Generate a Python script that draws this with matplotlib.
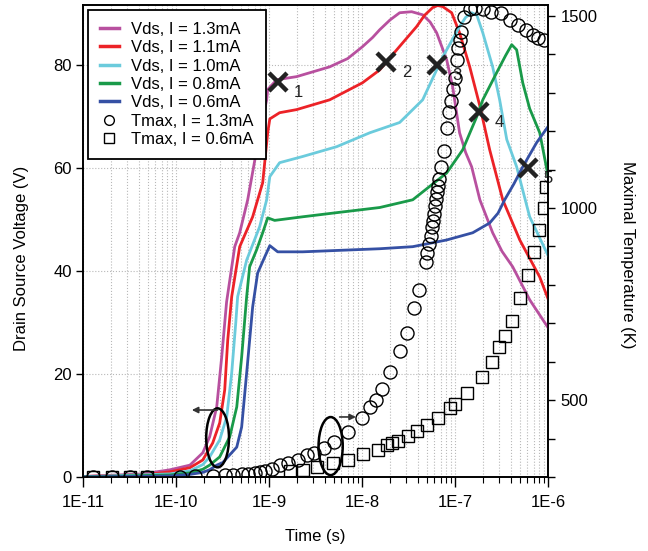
import numpy as np
import matplotlib
matplotlib.use("Agg")
import matplotlib.pyplot as plt
from matplotlib.lines import Line2D
from matplotlib.patches import Ellipse
from matplotlib.ticker import FixedLocator, FuncFormatter, LogLocator, NullFormatter, MultipleLocator

plt.rcParams['font.family'] = ['Liberation Sans', 'DejaVu Sans']
plt.rcParams['font.size'] = 12

# ---- drain-source voltage transients (time in s, voltage in V) ----
t_vds_13 = [1.0e-11, 4.4e-11, 8.6e-11, 1.41e-10, 1.94e-10, 2.30e-10, 2.74e-10, 3.10e-10, 3.50e-10,
            4.28e-10, 4.84e-10, 5.90e-10, 7.94e-10, 9.44e-10, 9.68e-10, 1.21e-9, 1.98e-9, 4.49e-9,
            7.0e-9, 1.01e-8, 1.30e-8, 1.55e-8, 2.0e-8, 2.54e-8, 3.42e-8, 4.49e-8, 5.4e-8, 6.35e-8,
            8.13e-8, 9.44e-8, 1.12e-7, 1.30e-7, 1.51e-7, 1.85e-7, 2.54e-7, 3.2e-7, 4.17e-7, 6.35e-7,
            1.0e-6]
v_vds_13 = [0.1, 0.6, 1.4, 2.3, 4.7, 7.8, 13.6, 23.3, 34.0,
            44.7, 47.4, 53.8, 66.8, 73.2, 75.2, 77.1, 77.7, 79.6,
            81.2, 83.5, 85.3, 86.8, 88.7, 90.1, 90.3, 89.7, 88.3, 86.2,
            81.0, 75.7, 66.8, 63.0, 60.2, 53.8, 47.4, 43.8, 40.8, 34.4,
            29.0]

t_vds_11 = [1.0e-11, 4.4e-11, 8.6e-11, 1.41e-10, 1.94e-10, 2.48e-10, 2.95e-10, 3.34e-10, 3.60e-10,
            3.97e-10, 4.84e-10, 6.67e-10, 8.55e-10, 9.68e-10, 1.02e-9, 1.30e-9, 1.98e-9, 4.49e-9,
            1.01e-8, 1.55e-8, 2.36e-8, 3.86e-8, 4.7e-8, 5.75e-8, 6.5e-8, 7.36e-8, 9.20e-8, 1.12e-7,
            1.44e-7, 1.85e-7, 2.36e-7, 3.26e-7, 4.97e-7, 8.15e-7, 1.0e-6]
v_vds_11 = [0.1, 0.4, 1.0, 1.8, 3.3, 6.6, 10.5, 16.9, 26.6,
            35.0, 44.7, 50.5, 57.1, 66.8, 69.5, 70.7, 71.3, 73.2,
            76.5, 79.0, 82.9, 87.4, 89.6, 91.1, 91.5, 91.3, 90.1, 86.2,
            79.6, 72.0, 63.5, 53.8, 46.0, 38.8, 34.6]

t_vds_10 = [1.0e-11, 8.6e-11, 1.41e-10, 1.94e-10, 2.30e-10, 2.95e-10, 3.51e-10, 3.97e-10, 4.39e-10,
            4.60e-10, 5.75e-10, 7.94e-10, 9.44e-10, 1.02e-9, 1.30e-9, 2.30e-9, 5.33e-9, 1.21e-8,
            2.54e-8, 4.49e-8, 7.36e-8, 1.12e-7, 1.30e-7, 1.51e-7, 1.72e-7, 1.99e-7, 2.54e-7, 3.02e-7,
            3.60e-7, 4.60e-7, 6.35e-7, 1.0e-6]
v_vds_10 = [0.05, 0.6, 1.2, 2.4, 3.9, 7.2, 11.7, 20.2, 29.9,
            35.0, 42.1, 48.6, 53.8, 58.3, 61.0, 62.2, 64.1, 66.8,
            68.8, 73.2, 81.5, 87.4, 89.2, 90.1, 89.6, 86.2, 79.6, 73.2,
            65.5, 60.2, 50.5, 43.0]

t_vds_08 = [1.0e-11, 8.6e-11, 1.41e-10, 1.94e-10, 2.30e-10, 2.95e-10, 3.78e-10, 4.50e-10, 5.08e-10,
            5.75e-10, 6.19e-10, 7.36e-10, 8.55e-10, 9.68e-10, 1.15e-9, 2.30e-9, 5.33e-9, 1.55e-8,
            3.51e-8, 8.13e-8, 1.21e-7, 1.71e-7, 1.99e-7, 2.81e-7, 3.5e-7, 4.07e-7, 4.60e-7, 5.35e-7,
            6.35e-7, 8.15e-7, 1.0e-6]
v_vds_08 = [0.0, 0.4, 0.8, 1.5, 2.3, 3.9, 7.8, 13.6, 23.3,
            35.0, 40.8, 44.1, 47.4, 50.3, 49.8, 50.5, 51.3, 52.3,
            53.8, 59.0, 63.5, 69.9, 73.2, 78.5, 81.8, 83.9, 82.9, 76.5,
            71.5, 66.8, 58.5]

t_vds_06 = [1.0e-11, 8.6e-11, 1.41e-10, 1.94e-10, 2.30e-10, 2.74e-10, 3.18e-10, 4.50e-10, 5.08e-10,
            5.75e-10, 6.67e-10, 7.55e-10, 8.99e-10, 1.02e-9, 1.24e-9, 2.30e-9, 1.55e-8, 3.51e-8,
            8.13e-8, 1.55e-7, 2.36e-7, 2.9e-7, 3.42e-7, 4.3e-7, 5.35e-7, 7.55e-7, 1.0e-6]
v_vds_06 = [0.0, 0.2, 0.5, 0.9, 1.4, 2.3, 2.8, 5.8, 9.7,
            20.2, 33.0, 39.6, 42.7, 44.9, 43.7, 43.7, 44.3, 44.7,
            46.0, 47.4, 49.3, 51.2, 53.8, 56.9, 60.2, 64.9, 68.0]

# ---- maximal temperature (time in s, temperature in K) ----
t_tmax_13 = [1.27e-11, 2.04e-11, 3.18e-11, 4.84e-11, 1.10e-10, 1.59e-10, 2.48e-10, 3.34e-10, 4.07e-10,
             5.08e-10, 5.90e-10, 7.01e-10, 7.94e-10, 8.99e-10, 1.07e-9, 1.30e-9, 1.59e-9, 2.03e-9,
             2.54e-9, 3.02e-9, 3.87e-9, 4.96e-9, 7.02e-9, 9.93e-9, 1.21e-8, 1.40e-8, 1.63e-8, 1.98e-8,
             2.54e-8, 3.02e-8, 3.59e-8, 4.06e-8, 4.83e-8, 4.95e-8, 5.20e-8, 5.47e-8, 5.61e-8, 5.74e-8,
             5.89e-8, 6.04e-8, 6.19e-8, 6.34e-8, 6.50e-8, 6.67e-8, 7.00e-8, 7.55e-8, 8.13e-8, 8.54e-8,
             8.97e-8, 9.44e-8, 9.90e-8, 1.04e-7, 1.07e-7, 1.12e-7, 1.17e-7, 1.26e-7, 1.44e-7, 1.65e-7,
             1.99e-7, 2.46e-7, 3.10e-7, 3.90e-7, 4.80e-7, 5.80e-7, 6.90e-7, 7.90e-7, 9.00e-7]
T_tmax_13 = [300, 300, 300, 300, 301, 302, 303, 304, 305,
             307, 309, 311, 313, 316, 320, 330, 337, 345,
             357, 363, 376, 391, 417, 454, 483, 501, 530, 572,
             629, 674, 739, 786, 859, 882, 906, 927, 950, 966,
             984, 1005, 1023, 1042, 1057, 1075, 1107, 1149, 1209, 1250,
             1279, 1310, 1337, 1384, 1415, 1436, 1459, 1498, 1518, 1520,
             1518, 1511, 1506, 1488, 1475, 1462, 1449, 1441, 1436]

t_tmax_06 = [1.27e-11, 2.04e-11, 3.18e-11, 4.84e-11, 1.67e-9, 2.30e-9, 3.26e-9, 4.84e-9, 7.0e-9,
             1.02e-8, 1.48e-8, 1.85e-8, 2.08e-8, 2.42e-8, 3.10e-8, 3.87e-8, 4.96e-8, 6.51e-8,
             8.77e-8, 9.93e-8, 1.34e-7, 1.94e-7, 2.48e-7, 2.95e-7, 3.43e-7, 4.07e-7, 4.97e-7,
             6.05e-7, 7.03e-7, 7.94e-7, 9.0e-7, 9.46e-7]
T_tmax_06 = [300, 300, 300, 300, 315, 319, 326, 337, 344,
             360, 370, 384, 389, 394, 407, 420, 436, 454,
             480, 491, 519, 561, 598, 639, 666, 707, 765,
             825, 885, 942, 1000, 1055]

# ---- numbered operating points on the Vds curves ----
point_labels = ['1', '2', '3', '4', '5']
point_t = [1.25e-9, 1.83e-8, 6.39e-8, 1.81e-7, 6.09e-7]
point_v = [76.7, 80.6, 80.0, 70.9, 60.0]

x_tick_values = [1e-11, 1e-10, 1e-9, 1e-8, 1e-7, 1e-6]
x_tick_labels = ['1E-11', '1E-10', '1E-9', '1E-8', '1E-7', '1E-6']

vds_series = [
    (t_vds_13, v_vds_13, '#B8509F', 'Vds, I = 1.3mA'),
    (t_vds_11, v_vds_11, '#EC2227', 'Vds, I = 1.1mA'),
    (t_vds_10, v_vds_10, '#6BCBDC', 'Vds, I = 1.0mA'),
    (t_vds_08, v_vds_08, '#199A49', 'Vds, I = 0.8mA'),
    (t_vds_06, v_vds_06, '#3550A4', 'Vds, I = 0.6mA'),
]

fig = plt.figure(figsize=(6.48, 5.51), dpi=100)
ax = fig.add_axes([0.1281, 0.1343, 0.7176, 0.8566])
ax2 = ax.twinx()

ax.set_xscale('log')
ax.set_xlim(1e-11, 1e-6)
ax.set_ylim(0, 91.6)
ax2.set_ylim(300, 1528)

grid_kw = dict(color='#b8b8b8', linestyle=':', linewidth=0.8)
ax.grid(True, which='major', axis='both', **grid_kw)
ax.grid(True, which='minor', axis='x', **grid_kw)
ax.set_axisbelow(True)

handles = []
for t, v, c, lab in vds_series:
    ax.plot(t, v, color=c, lw=2.0, solid_joinstyle='round', zorder=3)
    handles.append(Line2D([], [], color=c, lw=2.5, label=lab))

ax.plot(point_t, point_v, linestyle='none', marker='x', markersize=13,
        markeredgewidth=3.2, color='#222222', zorder=5)
for lab, t, v in zip(point_labels, point_t, point_v):
    ax.annotate(lab, xy=(t, v), xytext=(11, -8), textcoords='offset points',
                fontsize=12, color='#222222', ha='left', va='center', zorder=6)

ax2.plot(t_tmax_13, T_tmax_13, linestyle='none', marker='o', markersize=9.4,
         markerfacecolor='none', markeredgecolor='black', markeredgewidth=1.0, zorder=4)
ax2.plot(t_tmax_06, T_tmax_06, linestyle='none', marker='s', markersize=9.0,
         markerfacecolor='none', markeredgecolor='black', markeredgewidth=1.0, zorder=4)
handles.append(Line2D([], [], linestyle='none', marker='o', markersize=7,
                      markerfacecolor='none', markeredgecolor='black', label='Tmax, I = 1.3mA'))
handles.append(Line2D([], [], linestyle='none', marker='s', markersize=7,
                      markerfacecolor='none', markeredgecolor='black', label='Tmax, I = 0.6mA'))

# axis ticks
def decade_label(val, pos):
    idx = int(np.argmin([abs(np.log10(q) - np.log10(val)) for q in x_tick_values]))
    return x_tick_labels[idx]

ax.xaxis.set_major_locator(FixedLocator(x_tick_values))
ax.xaxis.set_major_formatter(FuncFormatter(decade_label))
ax.xaxis.set_minor_locator(LogLocator(base=10, subs=np.arange(2, 10), numticks=20))
ax.xaxis.set_minor_formatter(NullFormatter())
ax.set_yticks([0, 20, 40, 60, 80])
ax2.set_yticks([500, 1000, 1500])
ax2.yaxis.set_minor_locator(MultipleLocator(100))

ax.tick_params(axis='x', which='major', direction='out', length=7, width=1.0, pad=6, labelsize=12)
ax.tick_params(axis='x', which='minor', direction='out', length=4.5, width=0.8)
ax.tick_params(axis='y', which='major', direction='out', length=5, width=1.0, pad=3, labelsize=12)
ax2.tick_params(axis='y', which='both', direction='out', length=5, width=1.0, pad=4, labelsize=12)
for a in (ax, ax2):
    for s in a.spines.values():
        s.set_linewidth(1.2)

fig.text(315 / 648, 1 - 537 / 551, 'Time (s)', ha='center', va='center', fontsize=12)
fig.text(22 / 648, 1 - 258 / 551, 'Drain Source Voltage (V)', ha='center', va='center',
         rotation=90, fontsize=12)
fig.text(628 / 648, 1 - 255 / 551, 'Maximal Temperature (K)', ha='center', va='center',
         rotation=-90, fontsize=12)

# ellipses marking which axis each family belongs to
def to_axes(t, v):
    return ax.transAxes.inverted().transform(ax.transData.transform((t, v)))

fig.canvas.draw()
for (tc, vc), (w, h) in [((2.8e-10, 7.6), (0.049, 0.125)), ((4.6e-9, 6.0), (0.052, 0.123))]:
    cx, cy = to_axes(tc, vc)
    ax2.add_patch(Ellipse((cx, cy), w, h, transform=ax.transAxes, fill=False,
                          edgecolor='black', lw=1.8, zorder=6))

ax2.annotate('', xy=(1.48e-10, 13.0), xytext=(2.8e-10, 13.0), xycoords=ax.transData,
             textcoords=ax.transData,
             arrowprops=dict(arrowstyle='-|>', color='#333333', lw=1.2, mutation_scale=9,
                             shrinkA=0, shrinkB=0), zorder=6)
ax2.annotate('', xy=(8.6e-9, 11.65), xytext=(5.75e-9, 11.65), xycoords=ax.transData,
             textcoords=ax.transData,
             arrowprops=dict(arrowstyle='-|>', color='#333333', lw=1.2, mutation_scale=9,
                             shrinkA=0, shrinkB=0), zorder=6)

leg = ax2.legend(handles=handles, loc='upper left', bbox_to_anchor=(0.011, 0.989),
                 borderaxespad=0, fontsize=12, frameon=True, fancybox=False,
                 edgecolor='black', framealpha=1, handlelength=1.15, handletextpad=0.75,
                 labelspacing=0.2, borderpad=0.7)
leg.get_frame().set_linewidth(1.3)
leg.set_zorder(10)

fig.savefig('out.png', dpi=100)
